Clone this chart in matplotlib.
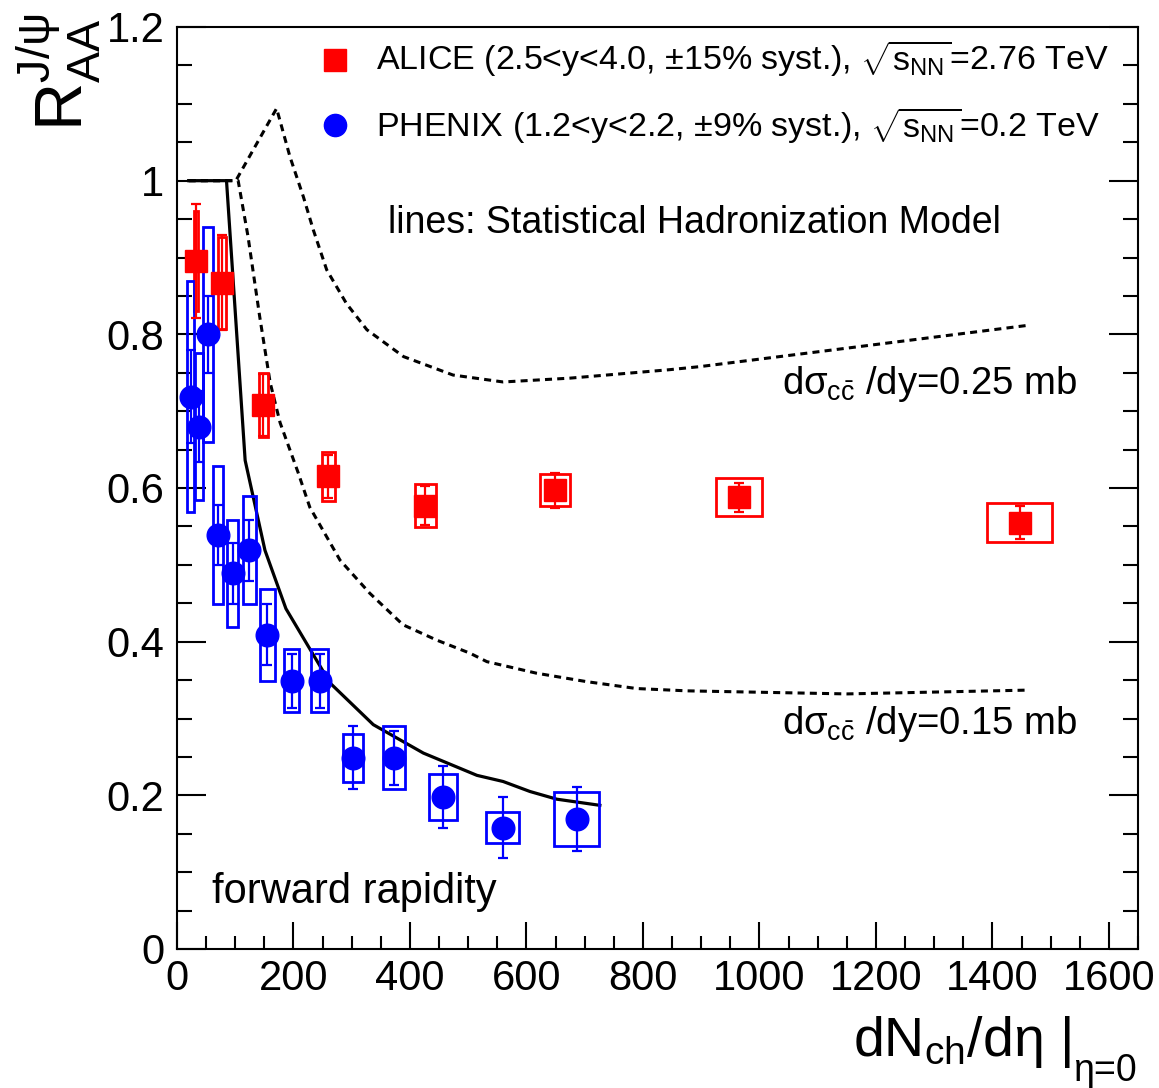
import matplotlib
matplotlib.use("Agg")
import matplotlib.pyplot as plt
from matplotlib.ticker import MultipleLocator, FuncFormatter

plt.rcParams['font.family'] = ['Liberation Sans', 'DejaVu Sans']
plt.rcParams['mathtext.fontset'] = 'custom'
plt.rcParams['mathtext.rm'] = 'Liberation Sans'
plt.rcParams['mathtext.it'] = 'Liberation Sans'
plt.rcParams['mathtext.sf'] = 'Liberation Sans'
plt.rcParams['mathtext.bf'] = 'Liberation Sans:bold'

# ALICE, 2.76 TeV, forward rapidity
alice_x = [33, 77, 148, 260, 426, 649, 965, 1447]
alice_y = [0.895, 0.867, 0.708, 0.615, 0.577, 0.597, 0.588, 0.555]
alice_stat = [0.074, 0.062, 0.040, 0.028, 0.025, 0.023, 0.019, 0.021]
alice_sys = [0.065, 0.060, 0.042, 0.032, 0.028, 0.021, 0.025, 0.025]
alice_sysx = [3, 7, 8, 11, 18, 25, 39, 56]

# PHENIX, 0.2 TeV, 1.2<y<2.2
phenix_x = [24, 38, 53, 70, 96, 124, 155, 197, 245, 302, 373, 457, 559, 686]
phenix_y = [0.719, 0.680, 0.800, 0.539, 0.489, 0.519, 0.409, 0.349, 0.349,
            0.249, 0.249, 0.198, 0.158, 0.169]
phenix_stat = [0.060, 0.046, 0.050, 0.039, 0.040, 0.040, 0.040, 0.035, 0.035,
               0.041, 0.035, 0.040, 0.040, 0.042]
phenix_sys = [0.150, 0.096, 0.140, 0.090, 0.070, 0.070, 0.060, 0.041, 0.041,
              0.031, 0.041, 0.030, 0.020, 0.035]
phenix_sysx = [6, 6.6, 8, 8.6, 9.4, 11, 12.6, 13, 15, 17, 19, 24, 29, 38]

# Statistical Hadronization Model curves
shm_rhic_x = [20, 85, 117, 151, 187, 263, 337, 423, 515, 560, 606, 652, 726]
shm_rhic_y = [1.0, 1.0, 0.636, 0.519, 0.443, 0.346, 0.292, 0.255, 0.226,
              0.218, 0.205, 0.195, 0.187]

shm_025_x = [20, 101, 171, 194, 217, 234, 257, 291, 326, 389, 474, 560,
             675, 846, 898, 1150, 1464]
shm_025_y = [1.0, 1.0, 1.094, 1.031, 0.979, 0.936, 0.884, 0.840, 0.806,
             0.771, 0.747, 0.738, 0.743, 0.754, 0.758, 0.782, 0.812]

shm_015_x = [20, 105, 122, 142, 160, 177, 208, 228, 280, 331, 388, 446,
             503, 532, 617, 703, 789, 875, 1150, 1464]
shm_015_y = [1.0, 1.0, 0.927, 0.823, 0.737, 0.685, 0.620, 0.575, 0.506,
             0.463, 0.422, 0.402, 0.385, 0.374, 0.359, 0.348, 0.339, 0.336,
             0.332, 0.337]

W, H = 1159, 1088
fig = plt.figure(figsize=(W / 100, H / 100), dpi=100)
ax = fig.add_axes([177 / W, 1 - 949 / H, (1138 - 177) / W, (949 - 27) / H])


def fx(px):
    return (px - 177) / 961


def fy(py):
    return (949 - py) / 922


# model lines
dash = (0, (2.3, 1.7))
ax.plot(shm_rhic_x, shm_rhic_y, color='black', lw=2.3, zorder=1)
ax.plot(shm_025_x, shm_025_y, color='black', lw=2.2, ls=dash, zorder=1)
ax.plot(shm_015_x, shm_015_y, color='black', lw=2.2, ls=dash, zorder=1)

# systematic boxes
for xs, ys, sy, sx, col in [(alice_x, alice_y, alice_sys, alice_sysx, 'red'),
                            (phenix_x, phenix_y, phenix_sys, phenix_sysx, 'blue')]:
    ax.bar(xs, [2 * s for s in sy], width=[2 * w for w in sx],
           bottom=[y - s for y, s in zip(ys, sy)],
           fill=False, edgecolor=col, linewidth=2.0, zorder=2)

# statistical errors
ax.errorbar(alice_x, alice_y, yerr=alice_stat, fmt='none', ecolor='red',
            elinewidth=1.6, capsize=3.6, capthick=1.6, zorder=3)
ax.errorbar(phenix_x, phenix_y, yerr=phenix_stat, fmt='none', ecolor='blue',
            elinewidth=1.6, capsize=3.6, capthick=1.6, zorder=3)

# markers
ax.plot(alice_x, alice_y, 's', ms=16.3, color='red', mec='red', zorder=4)
ax.plot(phenix_x, phenix_y, 'o', ms=16.3, color='blue', mec='blue', zorder=4)

ax.set_xlim(0, 1650)
ax.set_ylim(0, 1.2)

ax.xaxis.set_major_locator(MultipleLocator(200))
ax.xaxis.set_minor_locator(MultipleLocator(50))
ax.yaxis.set_major_locator(MultipleLocator(0.2))
ax.yaxis.set_minor_locator(MultipleLocator(0.05))
ax.yaxis.set_major_formatter(FuncFormatter(lambda v, p: f'{v:g}'))

ax.tick_params(axis='both', which='both', direction='in', top=False, right=True,
               width=1.5, labelsize=30)
ax.tick_params(axis='x', which='major', length=19.5, pad=7)
ax.tick_params(axis='x', which='minor', length=9.5)
ax.tick_params(axis='y', which='major', length=21, pad=9)
ax.tick_params(axis='y', which='minor', length=10.5)
for s in ax.spines.values():
    s.set_linewidth(1.5)

# legend
ax.plot([fx(335)], [fy(60)], 's', ms=16, color='red', transform=ax.transAxes,
        clip_on=False)
ax.plot([fx(335)], [fy(125)], 'o', ms=16, color='blue', transform=ax.transAxes,
        clip_on=False)
ax.text(fx(376), fy(70), r'ALICE (2.5<y<4.0, $\pm$15% syst.), $\sqrt{s_{\rm NN}}$=2.76 TeV',
        transform=ax.transAxes, fontsize=24.5, va='baseline', ha='left')
ax.text(fx(376), fy(137), r'PHENIX (1.2<y<2.2, $\pm$9% syst.), $\sqrt{s_{\rm NN}}$=0.2 TeV',
        transform=ax.transAxes, fontsize=24.5, va='baseline', ha='left')

ax.text(fx(388), fy(233), 'lines: Statistical Hadronization Model',
        transform=ax.transAxes, fontsize=27, va='baseline', ha='left')
ax.text(fx(782), fy(394), r'd$\sigma_{c\bar{c}}$ /dy=0.25 mb',
        transform=ax.transAxes, fontsize=27.5, va='baseline', ha='left')
ax.text(fx(782), fy(734), r'd$\sigma_{c\bar{c}}$ /dy=0.15 mb',
        transform=ax.transAxes, fontsize=27.5, va='baseline', ha='left')
ax.text(fx(212), fy(903), 'forward rapidity',
        transform=ax.transAxes, fontsize=30, va='baseline', ha='left')

# axis titles
fig.text(1071 / W, 1 - 1056 / H, r'dN$_{\rm ch}$/d$\eta$ |',
         fontsize=40, ha='right', va='baseline')
fig.text(1137 / W, 1 - 1081 / H, '\u03b7=0',
         fontsize=27, ha='right', va='baseline')
fig.text(14 / W, 1 - 14 / H, r'R$_{\rm AA}^{\rm J/\psi}$',
         fontsize=48, rotation=90, ha='left', va='top')

fig.savefig('out.png', dpi=100)
